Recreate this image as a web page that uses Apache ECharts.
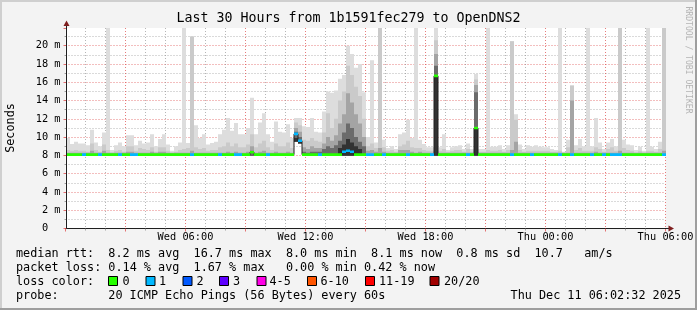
<!DOCTYPE html>
<html>
<head>
<meta charset="utf-8">
<script src="https://cdn.jsdelivr.net/npm/echarts@6/dist/echarts.min.js"></script>
<style>
html,body{margin:0;padding:0;background:#f3f3f3;overflow:hidden}
#chart{width:697px;height:310px}
</style>
</head>
<body>
<div id="chart"></div>
<script>
// ================= DATA =================
const titleText = 'Last 30 Hours from 1b1591fec279 to OpenDNS2';
const yAxisName = 'Seconds';
const watermark = 'RRDTOOL / TOBI OETIKER';
const xTickLabels = {6: 'Wed 06:00', 12: 'Wed 12:00', 18: 'Wed 18:00', 24: 'Thu 00:00', 30: 'Thu 06:00'};
const spanHours = 30;          // hours shown, from Wed 00:00
const binHours = 0.2;          // 12 minute consolidation bins
const firstBinHour = 0.025;    // start of first bin
const yMaxMs = 21.94;

// lowest ping of each bin (ms)
const lowRtt = [
7.95,7.95,7.95,7.95,7.95,7.95,7.95,7.95,7.95,7.95,
7.95,7.95,7.95,7.95,7.95,7.95,7.95,7.95,7.95,7.95,
7.95,7.95,7.95,7.95,7.95,7.95,7.95,7.95,7.95,7.95,
7.95,7.95,7.95,7.95,7.95,7.95,7.95,7.95,7.95,7.95,
7.95,7.95,7.95,7.95,7.95,7.95,7.95,7.95,7.95,7.95,
7.95,7.95,7.95,7.95,7.95,7.95,7.95,9.5,9.3,7.95,
7.95,7.95,7.95,7.95,7.95,7.95,7.95,7.95,7.95,7.95,
7.95,7.95,7.95,7.95,7.95,7.95,7.95,7.95,7.95,7.95,
7.95,7.95,7.95,7.95,7.95,7.95,7.95,7.95,7.95,7.95,
7.95,7.95,7.95,7.95,7.95,7.95,7.95,7.95,7.95,7.95,
7.95,7.95,7.95,7.95,7.95,7.95,7.95,7.95,7.95,7.95,
7.95,7.95,7.95,7.95,7.95,7.95,7.95,7.95,7.95,7.95,
7.95,7.95,7.95,7.95,7.95,7.95,7.95,7.95,7.95,7.95,
7.95,7.95,7.95,7.95,7.95,7.95,7.95,7.95,7.95,7.95,
7.95,7.95,7.95,7.95,7.95,7.95,7.95,7.95,7.95,7.95];

// smoke layer tops (ms), outermost (highest ping) first
const smoke1 = [
9.9,9.25,9.5,9.3,9.3,9.1,10.8,9.4,9.0,10.5,
22.5,8.6,9.1,9.4,9.0,10.2,10.2,9.1,9.6,9.3,
9.4,10.3,9.0,9.8,10.3,9.2,8.5,9.0,9.4,22.5,
9.35,21.0,11.3,9.9,10.3,9.2,9.35,9.5,10.3,10.8,
12.1,10.7,11.55,10.3,10.3,11.0,14.3,10.3,11.6,12.6,
10.3,9.5,11.7,10.6,10.5,11.4,9.9,12.1,12.1,11.2,
11.1,12.1,10.6,10.5,12.8,15.0,14.85,15.1,16.4,16.8,
20.0,19.1,17.6,18.0,14.9,10.0,18.4,9.4,22.5,9.7,
8.8,9.0,8.7,10.3,10.5,11.9,9.9,22.5,9.7,9.25,
8.9,8.9,22.5,8.9,10.3,8.6,8.9,9.0,9.1,8.7,
9.3,8.7,16.9,8.7,8.7,22.5,8.95,8.95,9.1,8.7,
9.1,20.5,12.5,9.2,8.7,9.1,8.95,9.1,8.95,8.9,
8.9,8.7,8.6,22.5,8.4,9.7,15.66,9.1,9.8,9.0,
22.5,9.0,12.1,9.4,8.7,9.4,9.8,9.0,22.5,9.7,
9.2,9.1,8.6,8.95,8.5,22.5,8.95,8.7,9.5,22.5];

const smoke2 = [
8.6,8.5,8.6,8.5,8.5,8.4,9.3,8.6,8.4,9.2,
8.6,8.3,8.5,8.6,8.4,9.0,9.0,8.5,8.8,8.7,
8.6,8.9,8.4,8.9,8.9,8.5,8.3,8.4,8.6,8.7,
8.8,21.0,8.9,8.7,8.8,8.5,8.6,8.6,8.9,9.0,
9.4,9.0,9.3,8.9,8.9,9.2,10.3,8.9,9.3,9.6,
8.9,8.6,9.3,9.0,9.0,9.4,8.8,11.6,11.3,9.7,
9.6,9.9,9.6,9.5,10.5,12.6,11.0,12.0,14.0,15.0,
17.8,16.8,15.5,14.5,12.0,9.0,9.3,8.8,22.5,8.9,
8.5,8.6,8.4,9.0,9.2,9.6,8.9,8.8,8.8,8.6,
8.5,8.5,20.6,8.5,8.7,8.4,8.5,8.6,8.6,8.4,
8.7,8.4,16.3,8.4,8.4,8.6,8.5,8.5,8.6,8.4,
8.6,20.5,11.9,8.6,8.4,8.5,8.5,8.5,8.5,8.5,
8.5,8.4,8.4,8.5,8.3,8.9,15.66,8.6,8.8,8.5,
8.5,8.5,8.9,8.7,8.4,8.7,8.9,8.5,22.5,8.8,
8.6,8.5,8.3,8.5,8.3,8.5,8.5,8.4,8.7,22.5];

const smoke3 = [
8.3,8.3,8.3,8.3,8.3,8.3,8.5,8.3,8.3,8.5,
8.3,8.3,8.3,8.3,8.3,8.4,8.4,8.3,8.3,8.3,
8.3,8.4,8.3,8.4,8.4,8.3,8.3,8.3,8.3,8.3,
8.3,8.5,8.3,8.3,8.3,8.3,8.3,8.3,8.3,8.3,
8.4,8.3,8.4,8.3,8.3,8.4,9.0,8.3,8.4,8.5,
8.3,8.3,8.4,8.3,8.3,8.4,8.3,11.0,10.6,8.9,
8.7,9.0,8.8,8.8,9.3,10.0,9.6,10.2,11.5,12.5,
14.8,13.8,12.5,11.5,10.0,8.5,8.6,8.4,8.8,8.4,
8.3,8.3,8.3,8.6,8.6,8.6,8.4,8.3,8.4,8.3,
8.3,8.3,19.1,8.3,8.3,8.3,8.3,8.3,8.3,8.3,
8.3,8.3,15.7,8.3,8.3,8.3,8.3,8.3,8.3,8.3,
8.3,8.6,9.5,8.3,8.3,8.3,8.3,8.3,8.3,8.3,
8.3,8.3,8.3,8.3,8.3,8.3,14.0,8.3,8.3,8.3,
8.3,8.3,8.4,8.3,8.3,8.3,8.3,8.3,8.5,8.3,
8.3,8.3,8.3,8.3,8.3,8.3,8.3,8.3,8.3,8.5];

const smoke4 = [
8.1,8.1,8.1,8.1,8.1,8.1,8.1,8.1,8.1,8.1,
8.1,8.1,8.1,8.1,8.1,8.1,8.1,8.1,8.1,8.1,
8.1,8.1,8.1,8.1,8.1,8.1,8.1,8.1,8.1,8.1,
8.1,8.1,8.1,8.1,8.1,8.1,8.1,8.1,8.1,8.1,
8.1,8.1,8.1,8.1,8.1,8.1,8.5,8.1,8.1,8.1,
8.1,8.1,8.1,8.1,8.1,8.1,8.1,10.6,10.0,8.4,
8.3,8.4,8.4,8.4,8.7,9.0,8.8,9.1,9.6,10.5,
11.5,11.0,10.0,9.5,9.0,8.1,8.1,8.1,8.1,8.1,
8.1,8.1,8.1,8.1,8.1,8.1,8.1,8.1,8.1,8.1,
8.1,8.1,17.8,8.1,8.1,8.1,8.1,8.1,8.1,8.1,
8.1,8.1,14.9,8.1,8.1,8.1,8.1,8.1,8.1,8.1,
8.1,8.1,8.1,8.1,8.1,8.1,8.1,8.1,8.1,8.1,
8.1,8.1,8.1,8.1,8.1,8.1,8.1,8.1,8.1,8.1,
8.1,8.1,8.1,8.1,8.1,8.1,8.1,8.1,8.1,8.1,
8.1,8.1,8.1,8.1,8.1,8.1,8.1,8.1,8.1,8.1];

const smoke5 = [
8.0,8.0,8.0,8.0,8.0,8.0,8.0,8.0,8.0,8.0,
8.0,8.0,8.0,8.0,8.0,8.0,8.0,8.0,8.0,8.0,
8.0,8.0,8.0,8.0,8.0,8.0,8.0,8.0,8.0,8.0,
8.0,8.0,8.0,8.0,8.0,8.0,8.0,8.0,8.0,8.0,
8.0,8.0,8.0,8.0,8.0,8.0,8.0,8.0,8.0,8.0,
8.0,8.0,8.0,8.0,8.0,8.0,8.0,9.9,9.5,8.0,
8.0,8.0,8.0,8.0,8.0,8.0,8.0,8.0,8.8,9.2,
9.8,9.4,9.0,8.7,8.0,8.0,8.0,8.0,8.0,8.0,
8.0,8.0,8.0,8.0,8.0,8.0,8.0,8.0,8.0,8.0,
8.0,8.0,16.7,8.0,8.0,8.0,8.0,8.0,8.0,8.0,
8.0,8.0,11.0,8.0,8.0,8.0,8.0,8.0,8.0,8.0,
8.0,8.0,8.0,8.0,8.0,8.0,8.0,8.0,8.0,8.0,
8.0,8.0,8.0,8.0,8.0,8.0,8.0,8.0,8.0,8.0,
8.0,8.0,8.0,8.0,8.0,8.0,8.0,8.0,8.0,8.0,
8.0,8.0,8.0,8.0,8.0,8.0,8.0,8.0,8.0,8.0];

// median rtt per bin (ms)
const medianRtt = [
8.08,8.08,8.08,8.08,8.08,8.08,8.08,8.08,8.08,8.08,
8.08,8.08,8.08,8.08,8.08,8.08,8.08,8.08,8.08,8.08,
8.08,8.08,8.08,8.08,8.08,8.08,8.08,8.08,8.08,8.08,
8.08,8.08,8.08,8.08,8.08,8.08,8.08,8.08,8.08,8.08,
8.08,8.08,8.08,8.08,8.08,8.08,8.35,8.08,8.08,8.08,
8.08,8.08,8.08,8.08,8.08,8.08,8.08,10.35,9.6,8.08,
8.08,8.08,8.08,8.08,8.08,8.08,8.08,8.08,8.08,8.4,
8.5,8.4,8.08,8.08,8.08,8.08,8.08,8.08,8.08,8.08,
8.08,8.08,8.08,8.08,8.08,8.08,8.08,8.08,8.08,8.08,
8.08,8.08,16.7,8.08,8.08,8.08,8.08,8.08,8.08,8.08,
8.08,8.08,11.0,8.08,8.08,8.08,8.08,8.08,8.08,8.08,
8.08,8.08,8.08,8.08,8.08,8.08,8.08,8.08,8.08,8.08,
8.08,8.08,8.08,8.08,8.08,8.08,8.08,8.08,8.08,8.08,
8.08,8.08,8.08,8.08,8.08,8.08,8.08,8.08,8.08,8.08,
8.08,8.08,8.08,8.08,8.08,8.08,8.08,8.08,8.08,8.08];

// loss class index per bin (index into lossLabels)
const lossClass = [
0,0,0,0,1,0,0,0,1,0,
0,0,0,1,0,0,1,1,0,0,
0,0,0,0,0,0,0,0,0,0,
0,1,0,0,0,0,0,0,1,0,
0,0,1,1,0,0,0,0,0,0,
1,0,0,0,0,0,0,1,1,0,
0,0,0,1,0,0,0,0,0,1,
1,1,0,0,0,1,1,0,0,1,
0,0,0,0,0,1,0,0,0,0,
0,1,0,0,0,0,0,0,0,0,
1,0,0,0,0,0,0,0,0,0,
0,1,0,0,0,0,1,0,0,0,
0,0,0,1,0,0,1,0,0,0,
0,1,0,0,1,0,1,1,1,0,
0,0,0,0,0,0,0,0,0,1];

const lossLabels = ['0', '1', '2', '3', '4-5', '6-10', '11-19', '20/20'];
const lossColors = ['#26ff00', '#00b8ff', '#0059ff', '#5e00ff', '#ff00e6', '#ff5500', '#ff0000', '#a10000'];

const statRtt  = 'median rtt:  8.2 ms avg  16.7 ms max  8.0 ms min  8.1 ms now  0.8 ms sd  10.7   am/s';
const statLoss = 'packet loss: 0.14 % avg  1.67 % max   0.00 % min 0.42 % now';
const lossTitle = 'loss color:';
const probeLabel = 'probe:';
const probeText = '20 ICMP Echo Pings (56 Bytes) every 60s';
const stampText = 'Thu Dec 11 06:02:32 2025';

// ================= STYLE / LAYOUT =================
const MONO = 'DejaVu Sans Mono';
const layerColors = ['#dddddd', '#cacaca', '#a4a4a4', '#6b6b6b', '#323232'];
const smokeLayers = [smoke1, smoke2, smoke3, smoke4, smoke5];
const binStart = k => firstBinHour + k * binHours;
const majorGrid = {color: 'rgba(222,80,80,0.75)', type: [1, 2], width: 1};
const minorGrid = {color: 'rgba(143,143,143,0.65)', type: [1, 2], width: 1};
const legendY = [254, 268, 282, 296];
const swatchX = [108, 145.5, 182.5, 219, 256.5, 307, 365, 429.5];
const swatchLabelX = [122.5, 159, 196.5, 233, 269.5, 320.5, 379, 444];

const series = smokeLayers.map((tops, li) => ({
  type: 'custom', clip: true, silent: true, z: 2 + li,
  data: tops.map((top, k) => [binStart(k), lowRtt[k], top]),
  encode: {x: 0, y: [1, 2]},
  renderItem: (params, api) => {
    const t = api.value(0);
    const a = api.coord([t, api.value(2)]);
    const b = api.coord([t + binHours, api.value(1)]);
    return {type: 'rect', shape: {x: a[0], y: a[1], width: b[0] - a[0], height: b[1] - a[1]},
            style: {fill: layerColors[li]}};
  }
}));

series.push({
  type: 'line', step: 'end', symbol: 'none', silent: true, z: 8, clip: true,
  data: medianRtt.map((m, k) => [binStart(k), m]).concat([[binStart(medianRtt.length), medianRtt[medianRtt.length - 1]]]),
  lineStyle: {color: '#202020', width: 1}
});

series.push({
  type: 'custom', clip: true, silent: true, z: 9,
  data: medianRtt.map((m, k) => [binStart(k), m, lossClass[k]]),
  encode: {x: 0, y: 1},
  renderItem: (params, api) => {
    const a = api.coord([api.value(0), api.value(1)]);
    const b = api.coord([api.value(0) + binHours, api.value(1)]);
    return {type: 'rect', shape: {x: a[0], y: a[1] - 1.3, width: b[0] - a[0], height: 2.6},
            style: {fill: lossColors[api.value(2)]}};
  }
});

const graphics = [
  {type: 'rect', shape: {x: 0, y: 0, width: 697, height: 2}, style: {fill: '#cfcfcf'}, z: 100},
  {type: 'rect', shape: {x: 0, y: 0, width: 2, height: 310}, style: {fill: '#cfcfcf'}, z: 100},
  {type: 'rect', shape: {x: 0, y: 308, width: 697, height: 2}, style: {fill: '#9e9e9e'}, z: 101},
  {type: 'rect', shape: {x: 695, y: 0, width: 2, height: 310}, style: {fill: '#9e9e9e'}, z: 101},
  {type: 'text', x: 348.5, y: 19, style: {text: titleText, fontFamily: MONO, fontSize: 13.3, fill: '#000', textAlign: 'center', textVerticalAlign: 'middle'}, z: 100},
  {type: 'text', x: 10.5, y: 128, rotation: Math.PI / 2, style: {text: yAxisName, fontFamily: MONO, fontSize: 11.8, fill: '#000', textAlign: 'center', textVerticalAlign: 'middle'}, z: 100},
  {type: 'text', x: 688.5, y: 60, rotation: -Math.PI / 2, style: {text: watermark, fontFamily: MONO, fontSize: 8.1, fill: '#b4b4b4', textAlign: 'center', textVerticalAlign: 'middle'}, z: 100},
  // y axis line (kept above the smoke) and arrows
  {type: 'line', shape: {x1: 66.5, y1: 25, x2: 66.5, y2: 228.5}, style: {stroke: '#1f1f1f', lineWidth: 1}, z: 100},
  {type: 'polygon', shape: {points: [[63.5, 26], [69.5, 26], [66.5, 20.5]]}, style: {fill: '#7f1f1f'}, z: 100},
  {type: 'line', shape: {x1: 665, y1: 228.5, x2: 669.5, y2: 228.5}, style: {stroke: '#1f1f1f', lineWidth: 1}, z: 100},
  {type: 'polygon', shape: {points: [[668.5, 225.5], [668.5, 231.5], [674, 228.5]]}, style: {fill: '#7f1f1f'}, z: 100},
  // legend
  {type: 'text', x: 16, y: legendY[0], style: {text: statRtt, fontFamily: MONO, fontSize: 11.8, fill: '#000', textAlign: 'left', textVerticalAlign: 'middle'}, z: 100},
  {type: 'text', x: 16, y: legendY[1], style: {text: statLoss, fontFamily: MONO, fontSize: 11.8, fill: '#000', textAlign: 'left', textVerticalAlign: 'middle'}, z: 100},
  {type: 'text', x: 16, y: legendY[2], style: {text: lossTitle, fontFamily: MONO, fontSize: 11.8, fill: '#000', textAlign: 'left', textVerticalAlign: 'middle'}, z: 100},
  {type: 'text', x: 16, y: legendY[3], style: {text: probeLabel, fontFamily: MONO, fontSize: 11.8, fill: '#000', textAlign: 'left', textVerticalAlign: 'middle'}, z: 100},
  {type: 'text', x: 108.3, y: legendY[3], style: {text: probeText, fontFamily: MONO, fontSize: 11.8, fill: '#000', textAlign: 'left', textVerticalAlign: 'middle'}, z: 100},
  {type: 'text', x: 681, y: legendY[3], style: {text: stampText, fontFamily: MONO, fontSize: 11.8, fill: '#000', textAlign: 'right', textVerticalAlign: 'middle'}, z: 100}
];
lossLabels.forEach((lab, i) => {
  graphics.push({type: 'rect', shape: {x: swatchX[i] + 0.5, y: 276.5, width: 9, height: 9},
                 style: {fill: lossColors[i], stroke: '#000', lineWidth: 1}, z: 100});
  graphics.push({type: 'text', x: swatchLabelX[i], y: legendY[2],
                 style: {text: lab, fontFamily: MONO, fontSize: 11.8, fill: '#000', textAlign: 'left', textVerticalAlign: 'middle'}, z: 100});
});

const chart = echarts.init(document.getElementById('chart'), null, {renderer: 'canvas', width: 697, height: 310});
chart.setOption({
  animation: false,
  backgroundColor: '#f3f3f3',
  grid: {left: 65.5, right: 31.5, top: 28, bottom: 81.5, show: true, backgroundColor: '#ffffff', borderWidth: 0},
  xAxis: {
    type: 'value', min: 0, max: spanHours, interval: 3,
    axisLine: {show: true, onZero: false, lineStyle: {color: '#1f1f1f', width: 1}},
    axisTick: {show: true, length: 3, lineStyle: {color: 'rgba(222,80,80,0.8)'}},
    minorTick: {show: true, splitNumber: 3, length: 2, lineStyle: {color: 'rgba(143,143,143,0.8)'}},
    splitLine: {show: true, showMinLine: false, lineStyle: majorGrid},
    minorSplitLine: {show: true, lineStyle: minorGrid},
    axisLabel: {formatter: v => xTickLabels[v] || '', fontFamily: MONO, fontSize: 10.3, color: '#000',
                margin: 4, showMaxLabel: true, showMinLabel: false, hideOverlap: false}
  },
  yAxis: {
    type: 'value', min: 0, max: yMaxMs, interval: 2, offset: -1,
    axisLine: {show: false},
    axisTick: {show: true, length: 3, lineStyle: {color: 'rgba(222,80,80,0.8)'}},
    minorTick: {show: true, splitNumber: 2, length: 2, lineStyle: {color: 'rgba(143,143,143,0.8)'}},
    splitLine: {show: true, showMinLine: false, showMaxLine: false, lineStyle: majorGrid},
    minorSplitLine: {show: true, lineStyle: minorGrid},
    axisLabel: {showMaxLabel: false, formatter: v => (v === 0 ? '0  ' : v + ' m'),
                fontFamily: MONO, fontSize: 10.3, color: '#000', margin: 6}
  },
  series: series,
  graphic: {elements: graphics}
});
</script>
</body>
</html>
